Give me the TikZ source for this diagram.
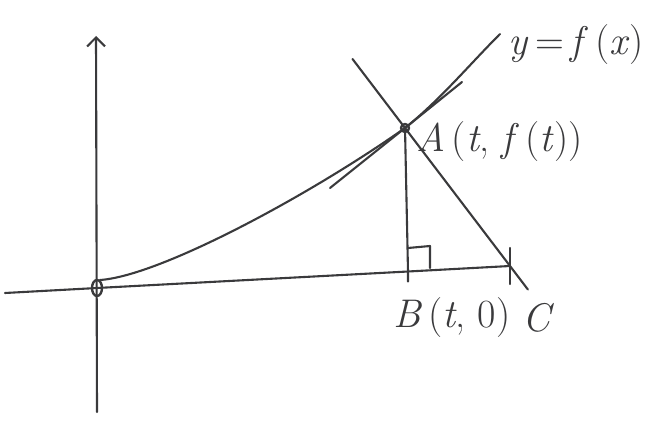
\documentclass[tikz,border=0pt]{standalone}
\usepackage{tikz}
\usetikzlibrary{arrows.meta,calc}
\definecolor{pen}{HTML}{3A3A3C}
\newcommand{\vr}[1]{\textit{#1}}

\begin{document}
\begin{tikzpicture}[x=1pt, y=-1pt, every node/.style={font=\fontsize{40}{44}\selectfont, text=pen, inner sep=0pt},
  sketch/.style={pen, line width=2.1pt, line cap=round, line join=round}]
\useasboundingbox (0,0) rectangle (663,422);
% key points (origin, point on the curve, foot of the perpendicular, normal meets x-axis)
\coordinate (O) at (97,288);
\coordinate (A) at (405,128);
\coordinate (B) at (408,271.5);
\coordinate (C) at (510,266);
\coordinate (xl) at (5,293);
\coordinate (yb) at (97,412);
\coordinate (yt) at (96,36);
\coordinate (ce) at (500,34);
% axes
\draw[sketch] (xl) -- (O) -- (B) -- (C);
\draw[sketch, -{Straight Barb[length=9pt, width=18pt]}] (yb) -- (yt);
\draw[sketch, line width=2.4pt] (O) ellipse (5 and 8);
% the curve y=f(x)
\draw[sketch] (100,280) .. controls (160,276) and (310,195) .. (A) .. controls (440,100) and (470,64) .. (ce);
% tangent and normal at A
\draw[sketch] (330,188) -- (A) -- (462,82);
\draw[sketch] ($(A)!-0.5!(C)$) -- ($(A)!1.17!(C)$);
\draw[sketch] (510,248) -- (510,284);
\draw[sketch, line width=2.4pt] (A) circle (4);
% perpendicular from A and right angle mark
\draw[sketch] (A) -- (B) -- ++(0,10);
\draw[sketch] (408,248) -- (430,246) -- (430,268);
% labels
\node[anchor=west] (lf) at (508,45) {\vr{y}\,=\,\vr{f}\,(\vr{x})};
\node[anchor=west] (la) at (416,142) {\vr{A}\,(\vr{t}, \vr{f}\,(\vr{t}))};
\node[anchor=west] (lb) at (393,318) {\vr{B}\,(\vr{t}, 0)};
\node[anchor=west] (lc) at (522,318) {\vr{C}};
\end{tikzpicture}
\end{document}
